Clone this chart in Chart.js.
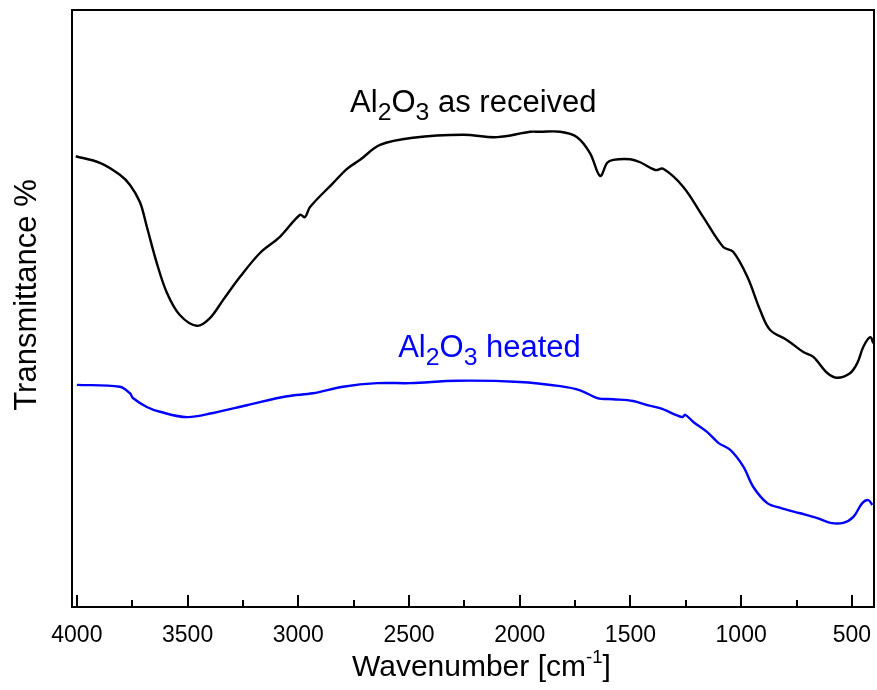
<!DOCTYPE html>
<html>
<head>
<meta charset="utf-8">
<script src="https://cdn.jsdelivr.net/npm/chart.js@4/dist/chart.umd.min.js"></script>
<style>
  html, body { margin: 0; padding: 0; background: #fff; }
  #wrap { width: 877px; height: 690px; }
</style>
</head>
<body>
<div id="wrap"><canvas id="ftirChart"></canvas></div>
<script>
// FTIR spectra (wavenumber in cm-1, transmittance in arbitrary %)
const wnReceived = [4005, 3896, 3806, 3760, 3715, 3684, 3639, 3593, 3535, 3458, 3399, 3340, 3263, 3173, 3083,
    2992, 2970, 2947, 2843, 2780, 2721, 2631, 2482, 2256, 2102, 1953, 1908, 1817, 1741, 1682, 1637, 1605,
    1578, 1501, 1456, 1388, 1352, 1262, 1171, 1081, 1036, 972, 914, 869, 792, 719, 674, 611, 566, 507,
    475, 448, 417, 403];
const tReceived = [75.5, 74.4, 72.4, 70.7, 67.8, 63.7, 57.6, 52.6, 48.9, 47.1, 48.4, 51.4, 55.3, 59.3, 62.0,
    65.7, 65.3, 67.0, 71.0, 73.4, 74.9, 77.4, 78.6, 79.1, 78.7, 79.6, 79.6, 79.6, 78.7, 76.0, 72.2, 74.4,
    74.9, 75.0, 74.5, 73.2, 73.4, 70.4, 65.3, 60.3, 59.5, 55.3, 49.7, 46.4, 44.7, 42.7, 41.9, 39.2, 38.4, 39.2,
    40.9, 43.6, 45.2, 44.2];

const wnHeated = [4000, 3806, 3760, 3747, 3684, 3625, 3503, 3385, 3232, 3051, 2934, 2798, 2644, 2495, 2283,
    2000, 1817, 1727, 1650, 1578, 1488, 1424, 1366, 1266, 1253, 1216, 1153, 1103, 1049, 990, 945, 882,
    823, 733, 656, 597, 539, 493, 453, 426, 408];
const tHeated = [37.2, 36.9, 35.8, 35.0, 33.5, 32.7, 31.8, 32.5, 33.8, 35.3, 35.8, 36.9, 37.5, 37.5, 37.9,
    37.7, 37.0, 36.3, 35.0, 34.8, 34.5, 33.8, 33.3, 31.8, 32.2, 31.0, 29.3, 27.5, 26.3, 23.5, 20.1, 17.4,
    16.6, 15.7, 14.9, 14.1, 14.1, 15.1, 17.4, 17.9, 17.1];

const xMin = 400, xMax = 4022;
const FONT = '"Liberation Sans", Arial, sans-serif';

function toPoints(xs, ys) {
    return xs.map((x, i) => ({ x: x, y: ys[i] }));
}

// draws "Al2O3 ..." style text with subscripts/superscripts
function drawRich(ctx, parts, x, y, size, color) {
    ctx.save();
    ctx.fillStyle = color;
    ctx.textBaseline = 'alphabetic';
    ctx.textAlign = 'left';
    let cx = x;
    parts.forEach(p => {
        const s = p.sub ? size * 0.8 : p.sup ? size * 0.62 : size;
        const dy = p.sub ? size * 0.27 : p.sup ? -size * 0.42 : 0;
        ctx.font = s + 'px ' + FONT;
        ctx.fillText(p.t, cx, y + dy);
        cx += ctx.measureText(p.t).width;
    });
    ctx.restore();
}

const decor = {
    id: 'decor',
    afterDraw(chart) {
        const ctx = chart.ctx;
        const a = chart.chartArea;
        const xs = chart.scales.x;
        const ys = chart.scales.y;
        ctx.save();
        ctx.strokeStyle = '#000';
        ctx.lineWidth = 2;
        // top and right frame
        ctx.beginPath();
        ctx.moveTo(a.left, a.top);
        ctx.lineTo(a.right, a.top);
        ctx.lineTo(a.right, a.bottom);
        ctx.stroke();
        // inward ticks
        xs.ticks.forEach(t => {
            const px = Math.round(xs.getPixelForValue(t.value));
            const len = t.value % 500 === 0 ? 12 : 7;
            ctx.beginPath();
            ctx.moveTo(px, a.bottom);
            ctx.lineTo(px, a.bottom - len);
            ctx.stroke();
        });
        ctx.restore();

        // y axis title
        ctx.save();
        ctx.translate(36, 295);
        ctx.rotate(-Math.PI / 2);
        ctx.fillStyle = '#000';
        ctx.font = '31px ' + FONT;
        ctx.textAlign = 'center';
        ctx.textBaseline = 'alphabetic';
        ctx.fillText('Transmittance %', 0, 0);
        ctx.restore();

        drawRich(ctx, [{ t: 'Al' }, { t: '2', sub: true }, { t: 'O' }, { t: '3', sub: true }, { t: ' as received' }],
            xs.getPixelForValue(2766), ys.getPixelForValue(82.9), 31, '#000');
        drawRich(ctx, [{ t: 'Al' }, { t: '2', sub: true }, { t: 'O' }, { t: '3', sub: true }, { t: ' heated' }],
            xs.getPixelForValue(2549), ys.getPixelForValue(41.9), 31, '#0000ff');
        drawRich(ctx, [{ t: 'Wavenumber [cm' }, { t: '-1', sup: true }, { t: ']' }], 352, 676, 30, '#000');
    }
};

new Chart(document.getElementById('ftirChart'), {
    type: 'line',
    data: {
        datasets: [{
            label: 'Al2O3 as received',
            data: toPoints(wnReceived, tReceived),
            borderColor: '#000000',
            borderWidth: 2.4,
            pointRadius: 0,
            tension: 0.35
        }, {
            label: 'Al2O3 heated',
            data: toPoints(wnHeated, tHeated),
            borderColor: '#0000ff',
            borderWidth: 2.4,
            pointRadius: 0,
            tension: 0.35
        }]
    },
    options: {
        responsive: true,
        maintainAspectRatio: false,
        animation: false,
        events: [],
        layout: { padding: { top: 10, right: 3, left: 0, bottom: 0 } },
        plugins: {
            legend: { display: false },
            tooltip: { enabled: false }
        },
        scales: {
            x: {
                type: 'linear',
                reverse: true,
                min: xMin,
                max: xMax,
                afterBuildTicks(scale) {
                    const ticks = [];
                    for (let v = 500; v <= 4000; v += 250) ticks.push({ value: v });
                    scale.ticks = ticks;
                },
                afterFit(scale) { scale.height = 83; },
                grid: { display: false, drawTicks: false },
                border: { display: true, color: '#000', width: 2 },
                ticks: {
                    autoSkip: false,
                    maxRotation: 0,
                    padding: 15,
                    color: '#000',
                    font: { family: FONT, size: 23 },
                    callback: v => (v % 500 === 0 ? String(v) : '')
                },
                title: { display: false }
            },
            y: {
                min: 0,
                max: 100,
                afterFit(scale) { scale.width = 72; },
                grid: { display: false, drawTicks: false },
                border: { display: true, color: '#000', width: 2 },
                ticks: { display: false },
                title: { display: false }
            }
        }
    },
    plugins: [decor]
});
</script>
</body>
</html>
